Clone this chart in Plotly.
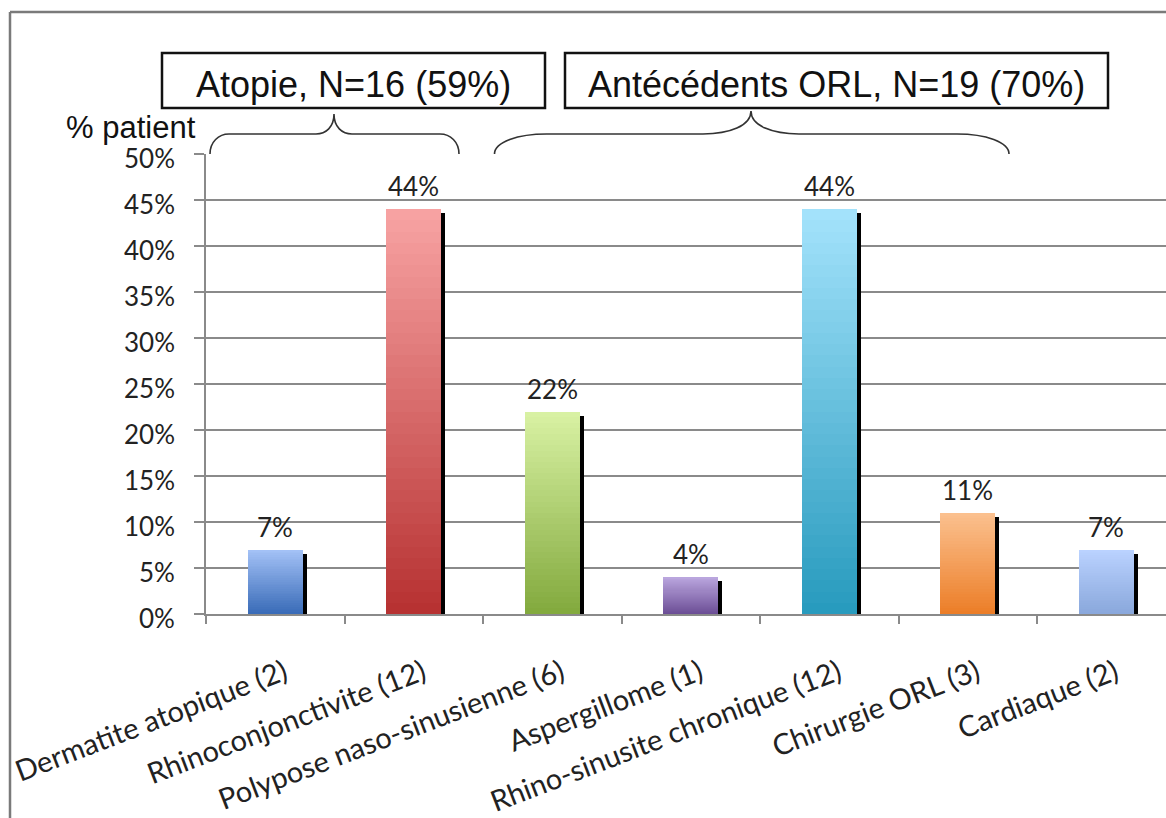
import plotly.graph_objects as go

# ---- data -------------------------------------------------------------
categories = [
    "Dermatite atopique (2)",
    "Rhinoconjonctivite (12)",
    "Polypose naso-sinusienne (6)",
    "Aspergillome (1)",
    "Rhino-sinusite chronique (12)",
    "Chirurgie ORL (3)",
    "Cardiaque (2)",
]
percent_patients = [7, 44, 22, 4, 44, 11, 7]
value_labels = ["7%", "44%", "22%", "4%", "44%", "11%", "7%"]
y_tick_values = [0, 5, 10, 15, 20, 25, 30, 35, 40, 45, 50]
y_tick_labels = ["0%", "5%", "10%", "15%", "20%", "25%", "30%", "35%", "40%", "45%", "50%"]
group_labels = ["Atopie, N=16 (59%)", "Antécédents ORL, N=19 (70%)"]
y_axis_title = "% patient"

# ---- styling ----------------------------------------------------------
W, H = 1166, 818
L, R, T, B = 206, 0, 154, 204
PW, PH = W - L - R, H - T - B

# gradient colours per bar: (top, bottom)
bar_gradients = [
    ((163, 193, 246), (58, 108, 184)),
    ((247, 162, 162), (183, 50, 50)),
    ((216, 241, 163), (131, 170, 62)),
    ((186, 166, 222), (108, 78, 150)),
    ((163, 226, 251), (40, 155, 190)),
    ((251, 192, 142), (236, 126, 40)),
    ((186, 210, 255), (138, 168, 220)),
]
N_STEPS = 36
BAR_WIDTH = 0.4
GRID = "#8a8a8a"
TEXT = "#222222"
LATO = "Lato, 'Open Sans', sans-serif"
TICK_FONT = dict(family=LATO, size=26, color=TEXT)
CAT_FONT = dict(family=LATO, size=29, color=TEXT)
ARIAL = "Liberation Sans, Arial, sans-serif"


def px_x(px):
    return (px - L) / PW


def px_y(py):
    return (H - B - py) / PH


def mix(c0, c1, t):
    return "rgb({},{},{})".format(*[round(a + (b - a) * t) for a, b in zip(c0, c1)])


fig = go.Figure()

# drop shadow on the right side of every bar
fig.add_trace(go.Bar(
    x=categories, y=percent_patients, base=[-0.45] * len(categories),
    width=0.03, offset=BAR_WIDTH / 2 - 0.004,
    marker=dict(color="#000000", line=dict(width=0)),
    hoverinfo="skip", showlegend=False,
))

# vertical gradient: layers that share the bar top, each starting higher
for k in range(N_STEPS):
    t = k / (N_STEPS - 1)
    fig.add_trace(go.Bar(
        x=categories,
        y=[v * (1 - k / N_STEPS) for v in percent_patients],
        base=[v * k / N_STEPS for v in percent_patients],
        width=BAR_WIDTH, offset=-BAR_WIDTH / 2,
        marker=dict(color=[mix(bot, top, t) for top, bot in bar_gradients],
                    line=dict(width=0)),
        hoverinfo="skip" if k else "x+y", showlegend=False,
    ))

# value labels above bars
for cat, v, lab in zip(categories, percent_patients, value_labels):
    fig.add_annotation(x=cat, y=v, text=lab, showarrow=False, yshift=23,
                       xanchor="center", yanchor="middle", font=TICK_FONT)

# y tick labels, set slightly below their gridlines
for v, lab in zip(y_tick_values, y_tick_labels):
    fig.add_annotation(xref="paper", yref="y", x=px_x(177), y=v, text=lab,
                       showarrow=False, xanchor="right", yanchor="middle",
                       yshift=-4, font=TICK_FONT)

shapes = []

# outer frame (left and top edges)
shapes.append(dict(type="line", xref="paper", yref="paper",
                   x0=px_x(10), x1=px_x(W + 5), y0=px_y(12), y1=px_y(12),
                   line=dict(color="#7a7a7a", width=2.5)))
shapes.append(dict(type="line", xref="paper", yref="paper",
                   x0=px_x(10), x1=px_x(10), y0=px_y(12), y1=px_y(H + 5),
                   line=dict(color="#7a7a7a", width=2.5)))


def brace_path(x0, x1, xc, y_end, y_mid, y_tip, r_end, r_tip):
    pts = [
        ("M", [(x0, y_end)]),
        ("C", [(x0, y_end - (y_end - y_mid) * 0.6), (x0 + r_end * 0.45, y_mid), (x0 + r_end, y_mid)]),
        ("L", [(xc - r_tip, y_mid)]),
        ("C", [(xc - r_tip * 0.45, y_mid), (xc, y_mid - (y_mid - y_tip) * 0.35), (xc, y_tip)]),
        ("C", [(xc, y_mid - (y_mid - y_tip) * 0.35), (xc + r_tip * 0.45, y_mid), (xc + r_tip, y_mid)]),
        ("L", [(x1 - r_end, y_mid)]),
        ("C", [(x1 - r_end * 0.45, y_mid), (x1, y_end - (y_end - y_mid) * 0.6), (x1, y_end)]),
    ]
    out = []
    for cmd, ps in pts:
        out.append(cmd + " ".join("{:.5f},{:.5f}".format(px_x(a), px_y(b)) for a, b in ps))
    return " ".join(out)


shapes.append(dict(type="path", xref="paper", yref="paper",
                   path=brace_path(210, 459, 334, 154, 134, 114, 19, 18),
                   line=dict(color="#333333", width=1.6)))
shapes.append(dict(type="path", xref="paper", yref="paper",
                   path=brace_path(494.5, 1009, 751, 154, 134, 111, 52, 48),
                   line=dict(color="#333333", width=1.6)))

# group title boxes
boxes = [(162, 545, 53, 108), (565, 1108, 53, 108)]
for (bx0, bx1, by0, by1), label in zip(boxes, group_labels):
    shapes.append(dict(type="rect", xref="paper", yref="paper",
                       x0=px_x(bx0), x1=px_x(bx1), y0=px_y(by1), y1=px_y(by0),
                       line=dict(color="#111111", width=2.5), fillcolor="white"))
    fig.add_annotation(xref="paper", yref="paper", x=px_x((bx0 + bx1) / 2),
                       y=px_y(84), text=label, showarrow=False,
                       xanchor="center", yanchor="middle",
                       font=dict(family=ARIAL, size=36, color="#111111"))

# y-axis caption
fig.add_annotation(xref="paper", yref="paper", x=px_x(198), y=px_y(147),
                   text=y_axis_title, showarrow=False, xanchor="right", yanchor="bottom",
                   font=dict(family=ARIAL, size=31, color="#111111"))

fig.update_layout(
    width=W, height=H,
    margin=dict(l=L, r=R, t=T, b=B, pad=0, autoexpand=False),
    paper_bgcolor="white", plot_bgcolor="white",
    barmode="overlay", bargap=0,
    shapes=shapes, showlegend=False,
)
fig.update_xaxes(
    type="category", range=[-0.5, 6.5 - 9.5 / 138.5], automargin=False,
    tickson="boundaries", ticks="outside", ticklen=8, tickcolor=GRID, tickwidth=1.5,
    showline=True, linecolor=GRID, linewidth=1.6, showgrid=False,
    tickangle=-21, tickfont=CAT_FONT, ticklabelstandoff=29, ticklabelshift=9,
)
fig.update_yaxes(
    range=[0, 50], tickvals=y_tick_values, showticklabels=False, automargin=False,
    ticks="outside", ticklen=10, tickcolor=GRID, tickwidth=1.5,
    showline=True, linecolor=GRID, linewidth=1.6,
    showgrid=True, gridcolor=GRID, gridwidth=1.6, zeroline=False,
)

fig.write_html("out.html")
